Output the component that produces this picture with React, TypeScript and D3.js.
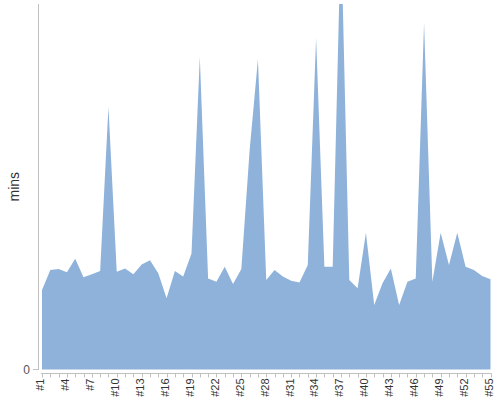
import React from "react";
import * as d3 from "d3";

const categories: string[] = Array.from({ length: 55 }, (_, i) => `#${i + 1}`);
const values: number[] = [
  26.1, 32.7, 33.0, 31.9, 36.4, 30.3, 31.3, 32.3, 86.2, 32.1,
  33.2, 31.3, 34.5, 35.9, 31.6, 23.4, 32.3, 30.5, 38.1, 102.7,
  29.9, 28.8, 33.7, 28.1, 33.0, 72.1, 101.9, 29.4, 32.7, 30.5,
  29.1, 28.6, 34.3, 108.9, 33.7, 33.7, 145.0, 29.4, 26.7, 44.9,
  21.2, 28.3, 33.2, 21.2, 28.8, 29.9, 113.9, 28.8, 44.9, 34.3,
  44.9, 33.7, 32.7, 30.7, 29.6,
];
const yTicks: number[] = [0];
const yMax = 120;
const yLabel = "mins";

export default function App() {
  const W = 500, H = 400;
  const left = 42, right = 490.5, top = 4, bottom = 369.5;
  const x = d3.scalePoint<string>().domain(categories).range([left, right]);
  const y = d3.scaleLinear().domain([0, yMax]).range([bottom, top]);
  const area = d3
    .area<number>()
    .x((_, i) => x(categories[i]) as number)
    .y0(y(0))
    .y1((d) => y(d));
  const font = "Arial, 'Liberation Sans', sans-serif";
  const axisY = 373.5;
  return (
    <svg width={W} height={H} style={{ position: "absolute", left: 0, top: 0 }} fontFamily={font}>
      <defs>
        <clipPath id="plot">
          <rect x={38} y={top} width={460} height={bottom - top + 1} />
        </clipPath>
      </defs>
      <path d={area(values) || ""} fill="#8fb2da" clipPath="url(#plot)" />
      <line x1={38.5} x2={38.5} y1={top} y2={bottom + 0.5} stroke="#c0c0c0" />
      {yTicks.map((t) => (
        <g key={t}>
          <line x1={33} x2={38} y1={y(t)} y2={y(t)} stroke="#c0c0c0" />
          <text x={30} y={y(t)} dy="0.35em" textAnchor="end" fontSize={12} fill="#555">
            {t}
          </text>
        </g>
      ))}
      <line x1={left - 1} x2={right + 1} y1={axisY} y2={axisY} stroke="#c0c0c0" />
      {categories.map((c) => (
        <line
          key={c}
          x1={Math.round(x(c) as number) + 0.5}
          x2={Math.round(x(c) as number) + 0.5}
          y1={axisY}
          y2={axisY + 4}
          stroke="#c0c0c0"
        />
      ))}
      {categories.map((c, i) =>
        i % 3 === 0 ? (
          <text
            key={c}
            transform={`translate(${(x(c) as number) - 1.5},${axisY + 5}) rotate(-90)`}
            dy="0.35em"
            textAnchor="end"
            fontSize={11}
            fill="#333"
          >
            {c}
          </text>
        ) : null
      )}
      <text
        transform={`translate(14,${(top + bottom) / 2}) rotate(-90)`}
        dy="0.35em"
        textAnchor="middle"
        fontSize={14}
        fill="#333"
      >
        {yLabel}
      </text>
    </svg>
  );
}
